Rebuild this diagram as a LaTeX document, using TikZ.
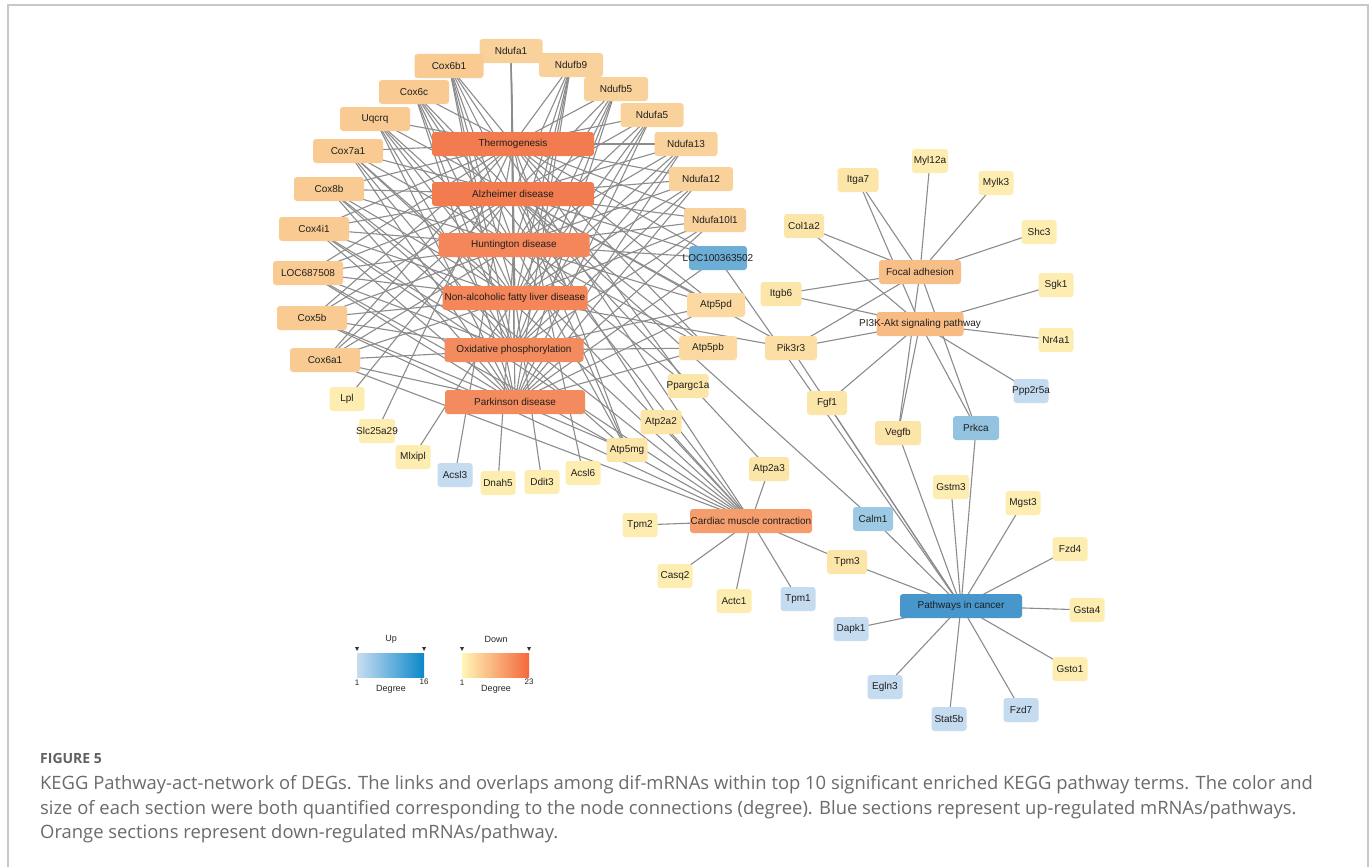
\documentclass[tikz,border=0pt]{standalone}
\usepackage{fontspec}
\setmainfont{Liberation Sans}
\newfontfamily\capfont{Open Sans}
\pgfdeclarelayer{bg}
\pgfsetlayers{bg,main}
\definecolor{cTA}{HTML}{F27B4F}
\definecolor{cHN}{HTML}{F4865A}
\definecolor{cOP}{HTML}{F48B5E}
\definecolor{cCard}{HTML}{F59D6C}
\definecolor{cFA}{HTML}{F8BE87}
\definecolor{cPI}{HTML}{F8BB83}
\definecolor{cCox}{HTML}{F9CB93}
\definecolor{cNduf}{HTML}{F9D29B}
\definecolor{cAtp}{HTML}{FBD9A0}
\definecolor{cYiii}{HTML}{FBDFA4}
\definecolor{cYii}{HTML}{FCE5A9}
\definecolor{cYi}{HTML}{FDEDB1}
\definecolor{cPiC}{HTML}{4797CD}
\definecolor{cLoc}{HTML}{6CAED6}
\definecolor{cPrk}{HTML}{93C3E0}
\definecolor{cCalm}{HTML}{9CC9E4}
\definecolor{cLB}{HTML}{C5DBF0}
\definecolor{edgegray}{HTML}{8C8C8C}
\definecolor{framegray}{HTML}{C8C8C8}
\definecolor{capgray}{HTML}{6B6B6B}
\definecolor{upL}{HTML}{C8DDF1}
\definecolor{upR}{HTML}{0B88CA}
\definecolor{dnL}{HTML}{FFF6B8}
\definecolor{dnR}{HTML}{F4683C}
\tikzset{
  nd/.style={rounded corners=3pt, inner sep=0pt, minimum height=24pt, text=black!88,
    font=\fontsize{10}{12}\selectfont},
  lnk/.style={draw=edgegray, line width=1.1pt},
  legtxt/.style={font=\fontsize{9}{11}\selectfont, text=black!85, inner sep=0pt},
  captxt/.style={font=\capfont\fontsize{18.4}{22}\selectfont, text=capgray, anchor=west, inner sep=0pt},
}
\newcommand\gn[6]{\node[nd, fill=#5, minimum width=#4pt] (#1) at (#2,#3) {\makebox[0pt]{#6}};}
\begin{document}
\begin{tikzpicture}[x=1pt,y=-1pt]
\useasboundingbox (0,0) rectangle (1372,867);
\begin{pgfonlayer}{bg}
\fill[white] (0,0) rectangle (1372,867);
\end{pgfonlayer}
\draw[framegray, line width=1.4pt] (8,867) -- (8,5) -- (1368,5) -- (1368,867);

% pathways
\gn{therm}{513}{144}{162}{cTA}{Thermogenesis}
\gn{alz}{513}{194}{162}{cTA}{Alzheimer disease}
\gn{hunt}{514}{245}{151}{cHN}{Huntington disease}
\gn{nafld}{515}{298}{145}{cHN}{Non-alcoholic fatty liver disease}
\gn{oxphos}{514}{350}{139}{cOP}{Oxidative phosphorylation}
\gn{park}{515}{402}{140}{cOP}{Parkinson disease}
\gn{cardiac}{751}{521}{122}{cCard}{Cardiac muscle contraction}
\gn{focal}{920}{272}{82}{cFA}{Focal adhesion}
\gn{pi3k}{920}{324}{87}{cPI}{PI3K-Akt signaling pathway}
\gn{cancer}{961}{606}{122}{cPiC}{Pathways in cancer}

% genes
\gn{ndufa1}{511}{51}{63}{cNduf}{Ndufa1}
\gn{cox6b1}{449}{66}{69}{cCox}{Cox6b1}
\gn{ndufb9}{571}{65}{64}{cNduf}{Ndufb9}
\gn{cox6c}{414}{92}{70}{cCox}{Cox6c}
\gn{ndufb5}{616}{89}{64}{cNduf}{Ndufb5}
\gn{uqcrq}{375}{119}{70}{cCox}{Uqcrq}
\gn{ndufa5}{652}{115}{63}{cNduf}{Ndufa5}
\gn{cox7a1}{348}{151}{70}{cCox}{Cox7a1}
\gn{ndufa13}{686}{144}{63}{cNduf}{Ndufa13}
\gn{cox8b}{329}{189}{70}{cCox}{Cox8b}
\gn{ndufa12}{701}{179}{64}{cNduf}{Ndufa12}
\gn{cox4i1}{314}{229}{70}{cCox}{Cox4i1}
\gn{ndufa10l1}{715}{220}{62}{cNduf}{Ndufa10l1}
\gn{loc100}{718}{258}{58}{cLoc}{LOC100363502}
\gn{loc687}{308}{273}{70}{cCox}{LOC687508}
\gn{cox5b}{312}{318}{70}{cCox}{Cox5b}
\gn{atp5pd}{716}{305}{58}{cAtp}{Atp5pd}
\gn{cox6a1}{325}{360}{70}{cCox}{Cox6a1}
\gn{atp5pb}{708}{348}{58}{cAtp}{Atp5pb}
\gn{ppargc1a}{688}{386}{41}{cYii}{Ppargc1a}
\gn{lpl}{347}{399}{35}{cYi}{Lpl}
\gn{slc25a29}{377}{431}{36}{cYi}{Slc25a29}
\gn{atp2a2}{661}{422}{41}{cYii}{Atp2a2}
\gn{mlxipl}{413}{457}{35}{cYi}{Mlxipl}
\gn{atp5mg}{627}{450}{41}{cYii}{Atp5mg}
\gn{acsl3}{455}{475}{35}{cLB}{Acsl3}
\gn{dnah5}{498}{483}{35}{cYi}{Dnah5}
\gn{ddit3}{542}{482}{35}{cYi}{Ddit3}
\gn{acsl6}{583}{473}{35}{cYi}{Acsl6}
\gn{myl12a}{930}{161}{36}{cYi}{Myl12a}
\gn{itga7}{858}{180}{41}{cYii}{Itga7}
\gn{mylk3}{996}{183}{35}{cYi}{Mylk3}
\gn{col1a2}{804}{226}{40}{cYii}{Col1a2}
\gn{shc3}{1039}{232}{35}{cYi}{Shc3}
\gn{itgb6}{781}{294}{41}{cYii}{Itgb6}
\gn{sgk1}{1056}{285}{35}{cYi}{Sgk1}
\gn{nr4a1}{1056}{340}{35}{cYi}{Nr4a1}
\gn{pik3r3}{791}{348}{52}{cYiii}{Pik3r3}
\gn{ppp2r5a}{1031}{391}{35}{cLB}{Ppp2r5a}
\gn{fgf1}{827}{403}{40}{cYii}{Fgf1}
\gn{vegfb}{898}{433}{46}{cYii}{Vegfb}
\gn{prkca}{976}{428}{46}{cPrk}{Prkca}
\gn{atp2a3}{769}{469}{40}{cYii}{Atp2a3}
\gn{tpm2}{640}{525}{35}{cYi}{Tpm2}
\gn{calm1}{873}{519}{40}{cCalm}{Calm1}
\gn{gstm3}{951}{487}{36}{cYi}{Gstm3}
\gn{mgst3}{1023}{503}{35}{cYi}{Mgst3}
\gn{fzd4}{1070}{549}{35}{cYi}{Fzd4}
\gn{tpm3}{847}{562}{40}{cYii}{Tpm3}
\gn{casq2}{675}{576}{35}{cYi}{Casq2}
\gn{actc1}{734}{601}{35}{cYi}{Actc1}
\gn{tpm1}{798}{599}{35}{cLB}{Tpm1}
\gn{gsta4}{1087}{610}{35}{cYi}{Gsta4}
\gn{dapk1}{851}{629}{35}{cLB}{Dapk1}
\gn{gsto1}{1070}{669}{35}{cYi}{Gsto1}
\gn{egln3}{885}{687}{35}{cLB}{Egln3}
\gn{fzd7}{1021}{710}{35}{cLB}{Fzd7}
\gn{stat5b}{949}{719}{35}{cLB}{Stat5b}

% edges
\begin{pgfonlayer}{bg}
\foreach \g in {ndufa1,ndufb9,ndufb5,ndufa5,ndufa13,ndufa12,ndufa10l1}
  \foreach \p in {therm,alz,hunt,nafld,oxphos,park}
    \draw[lnk] (\g.center) -- (\p.center);
\foreach \g in {cox6b1,cox6c,uqcrq,cox7a1,cox8b,cox4i1,loc687,cox5b,cox6a1}
  \foreach \p in {therm,alz,hunt,nafld,oxphos,park,cardiac}
    \draw[lnk] (\g.center) -- (\p.center);
\foreach \g in {atp5pd,atp5pb,atp5mg}
  \foreach \p in {therm,alz,hunt,oxphos,park}
    \draw[lnk] (\g.center) -- (\p.center);
\foreach \g/\p in {ppargc1a/therm,ppargc1a/hunt,atp2a2/alz,atp2a2/cardiac,atp2a3/alz,atp2a3/cardiac,
  lpl/alz,slc25a29/therm,mlxipl/nafld,acsl3/therm,acsl6/therm,dnah5/hunt,ddit3/nafld,
  calm1/alz,calm1/cancer,loc100/therm,loc100/alz,loc100/hunt,loc100/park,loc100/cancer,
  pik3r3/nafld,pik3r3/alz,pik3r3/focal,pik3r3/pi3k,pik3r3/cancer,
  col1a2/focal,itga7/focal,myl12a/focal,mylk3/focal,shc3/focal,itgb6/focal,prkca/focal,vegfb/focal,
  col1a2/pi3k,itga7/pi3k,itgb6/pi3k,sgk1/pi3k,nr4a1/pi3k,ppp2r5a/pi3k,prkca/pi3k,vegfb/pi3k,fgf1/pi3k,
  tpm3/cancer,dapk1/cancer,egln3/cancer,stat5b/cancer,fzd7/cancer,gsto1/cancer,gsta4/cancer,
  fzd4/cancer,mgst3/cancer,gstm3/cancer,prkca/cancer,vegfb/cancer,fgf1/cancer,
  tpm2/cardiac,casq2/cardiac,actc1/cardiac,tpm1/cardiac,tpm3/cardiac}
  \draw[lnk] (\g.center) -- (\p.center);
\end{pgfonlayer}

% legend
\node[legtxt] (uplab) at (391,639) {Up};
\node[legtxt] (dnlab) at (496,639) {Down};
\node[inner sep=0pt, minimum width=67pt, minimum height=24pt, left color=upL, right color=upR] (upbar) at (390.5,665) {};
\node[inner sep=0pt, minimum width=67pt, minimum height=24pt, left color=dnL, right color=dnR] (dnbar) at (495.5,665) {};
\foreach \x in {357,424,462,529}
  \fill[black!80] (\x-2,647) -- (\x+2,647) -- (\x,651) -- cycle;
\node[legtxt, font=\fontsize{8}{10}\selectfont] (up1) at (357,683) {1};
\node[legtxt, font=\fontsize{8}{10}\selectfont] (up16) at (424,682) {16};
\node[legtxt, font=\fontsize{8}{10}\selectfont] (dn1) at (462,683) {1};
\node[legtxt, font=\fontsize{8}{10}\selectfont] (dn23) at (529,682) {23};
\node[legtxt] (updeg) at (391,689) {Degree};
\node[legtxt] (dndeg) at (496,689) {Degree};

% caption
\node[captxt, font=\capfont\bfseries\fontsize{14}{16}\selectfont, text=black!62] (fig) at (40,758) {FIGURE 5};
\node[captxt] (cap1) at (40,785) {KEGG Pathway-act-network of DEGs. The links and overlaps among dif-mRNAs within top 10 significant enriched KEGG pathway terms. The color and};
\node[captxt] (cap2) at (40,810) {size of each section were both quantified corresponding to the node connections (degree). Blue sections represent up-regulated mRNAs/pathways.};
\node[captxt] (cap3) at (40,834) {Orange sections represent down-regulated mRNAs/pathway.};
\end{tikzpicture}
\end{document}
